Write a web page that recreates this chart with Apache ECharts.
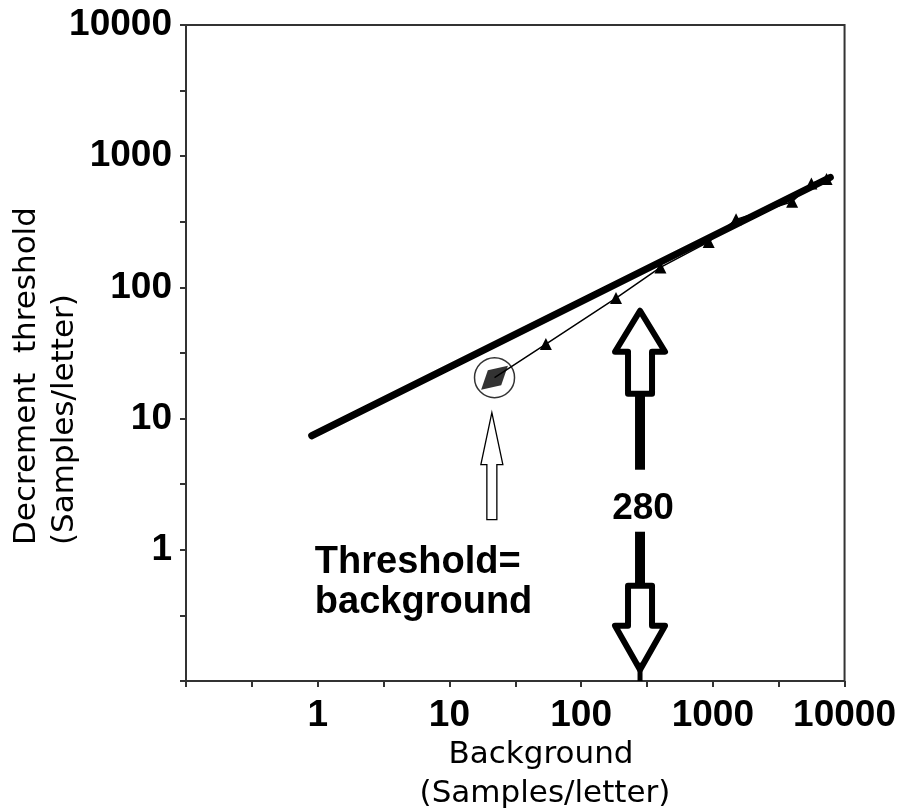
<!DOCTYPE html>
<html><head><meta charset="utf-8">
<script src="https://cdn.jsdelivr.net/npm/echarts@6/dist/echarts.min.js"></script>
<style>html,body{margin:0;padding:0;background:#fff}#c{width:899px;height:811px}</style>
</head><body><div id="c"></div>
<script>
// ---- data ----
const fitBackground = [0.9, 7800];
const fitThreshold = [7.4, 690];
const bgValues = [22, 54, 184, 400, 930, 1500, 4000, 5600, 7300];
const thrValues = [20.5, 37, 83, 142, 222, 330, 450, 620, 670];
const xTickLabels = ['1', '10', '100', '1000', '10000'];
const yTickLabels = ['1', '10', '100', '1000', '10000'];
const markBackground = 280;     // big double arrow
const equalBackground = 21;     // threshold = background arrow

const chart = echarts.init(document.getElementById('c'), null, {renderer: 'canvas'});
const tickFont = {fontSize: 37, fontWeight: 'bold', fontFamily: 'Liberation Sans, Arial, sans-serif', color: '#000'};
function fmt(v) {
  const s = String(Math.round(v));
  return (v >= 0.5 && (xTickLabels.indexOf(s) >= 0 || yTickLabels.indexOf(s) >= 0)) ? s : '';
}
const tickAxisCommon = {
  type: 'value', min: -1, max: 4, interval: 0.5,
  axisLine: {show: false}, axisLabel: {show: false}, splitLine: {show: false},
  axisTick: {show: true, length: 6, lineStyle: {color: '#333', width: 2}}
};
chart.setOption({
  animation: false,
  backgroundColor: '#fff',
  grid: {left: 186, right: 49, top: 25, bottom: 130, show: true, borderColor: '#333', borderWidth: 2},
  xAxis: [
    {type: 'log', logBase: 10, min: 0.1, max: 10000, position: 'bottom',
     axisLine: {show: false}, axisTick: {show: false}, splitLine: {show: false},
     axisLabel: Object.assign({margin: 16, formatter: fmt}, tickFont)},
    Object.assign({position: 'bottom'}, tickAxisCommon)
  ],
  yAxis: [
    {type: 'log', logBase: 10, min: 0.1, max: 10000, position: 'left',
     axisLine: {show: false}, axisTick: {show: false}, splitLine: {show: false},
     axisLabel: Object.assign({margin: 14, formatter: fmt}, tickFont)},
    Object.assign({position: 'left'}, tickAxisCommon)
  ],
  series: [
    {type: 'line', xAxisIndex: 0, yAxisIndex: 0, z: 3, symbol: 'none',
     data: fitBackground.map((b, i) => [b, fitThreshold[i]]),
     lineStyle: {color: '#000', width: 7, cap: 'round'}},
    {type: 'line', xAxisIndex: 0, yAxisIndex: 0, z: 2,
     data: bgValues.map((b, i) => i === 0 ? {value: [b, thrValues[i]], symbol: 'none'} : [b, thrValues[i]]),
     symbol: 'triangle', symbolSize: 12, itemStyle: {color: '#000'},
     lineStyle: {color: '#000', width: 1.5}},
    {type: 'scatter', xAxisIndex: 0, yAxisIndex: 0, z: 4,
     data: [[bgValues[0], thrValues[0]]], symbol: 'circle', symbolSize: 40,
     itemStyle: {color: 'rgba(0,0,0,0)', borderColor: '#000', borderWidth: 1.5}},
    {type: 'scatter', xAxisIndex: 0, yAxisIndex: 0, z: 4,
     data: [[bgValues[0], thrValues[0]]], symbol: 'diamond', symbolSize: [36, 20], symbolRotate: 42,
     itemStyle: {color: '#000'}}
  ]
});

const P = (x, y) => chart.convertToPixel({xAxisIndex: 0, yAxisIndex: 0}, [x, y]);
const bottom = 681;
// big arrow anchor (tip of upper arrow)
const ax = P(markBackground, 1)[0];
const ay = P(markBackground, 70)[1];
// small arrow anchor
const bx = P(equalBackground, 1)[0];
const by = P(bgValues[0], thrValues[0])[1] + 35;
const bold = 'bold 37px "Liberation Sans", Arial, sans-serif';
const bold38 = 'bold 38px "Liberation Sans", Arial, sans-serif';
const nameFont = '31px "DejaVu Sans", Verdana, sans-serif';
chart.setOption({
  graphic: [
    {type: 'polygon', z: 10, shape: {points: [[ax, ay + 3], [ax + 25, ay + 44], [ax + 12, ay + 44], [ax + 12, ay + 86], [ax - 12, ay + 86], [ax - 12, ay + 44], [ax - 25, ay + 44]]},
     style: {fill: '#fff', stroke: '#000', lineWidth: 6, lineJoin: 'round'}},
    {type: 'rect', z: 10, shape: {x: ax - 5, y: ay + 86, width: 10, height: 76}, style: {fill: '#000'}},
    {type: 'text', z: 10, style: {x: ax + 3, y: ay + 201, text: '280', font: bold, fill: '#000', align: 'center', verticalAlign: 'middle'}},
    {type: 'rect', z: 10, shape: {x: ax - 5, y: ay + 224, width: 10, height: 54}, style: {fill: '#000'}},
    {type: 'polygon', z: 10, shape: {points: [[ax - 12, ay + 278], [ax + 12, ay + 278], [ax + 12, ay + 318], [ax + 25, ay + 318], [ax, ay + 362], [ax - 25, ay + 318], [ax - 12, ay + 318]]},
     style: {fill: '#fff', stroke: '#000', lineWidth: 6, lineJoin: 'round'}},
    {type: 'rect', z: 10, shape: {x: ax - 2.5, y: ay + 355, width: 5, height: bottom - (ay + 355)}, style: {fill: '#000'}},
    {type: 'polygon', z: 10, shape: {points: [[bx, by], [bx + 11, by + 52], [bx + 5, by + 52], [bx + 5, by + 107], [bx - 5, by + 107], [bx - 5, by + 52], [bx - 11, by + 52]]},
     style: {fill: '#fff', stroke: '#000', lineWidth: 1.3}},
    {type: 'text', z: 10, style: {x: bx - 177, y: by + 150, text: 'Threshold=', font: bold38, fill: '#000', align: 'left', verticalAlign: 'middle'}},
    {type: 'text', z: 10, style: {x: bx - 177, y: by + 190, text: 'background', font: bold38, fill: '#000', align: 'left', verticalAlign: 'middle'}},
    {type: 'text', z: 10, style: {x: 541, y: 755, text: 'Background', font: nameFont, fill: '#000', align: 'center', verticalAlign: 'middle'}},
    {type: 'text', z: 10, style: {x: 545, y: 794, text: '(Samples/letter)', font: nameFont, fill: '#000', align: 'center', verticalAlign: 'middle'}},
    {type: 'text', z: 10, x: 27, y: 545, rotation: Math.PI / 2, style: {x: 0, y: 0, text: 'Decrement  threshold', font: nameFont, fill: '#000', align: 'left', verticalAlign: 'middle'}},
    {type: 'text', z: 10, x: 65, y: 545, rotation: Math.PI / 2, style: {x: 0, y: 0, text: '(Samples/letter)', font: nameFont, fill: '#000', align: 'left', verticalAlign: 'middle'}}
  ]
});
</script></body></html>
